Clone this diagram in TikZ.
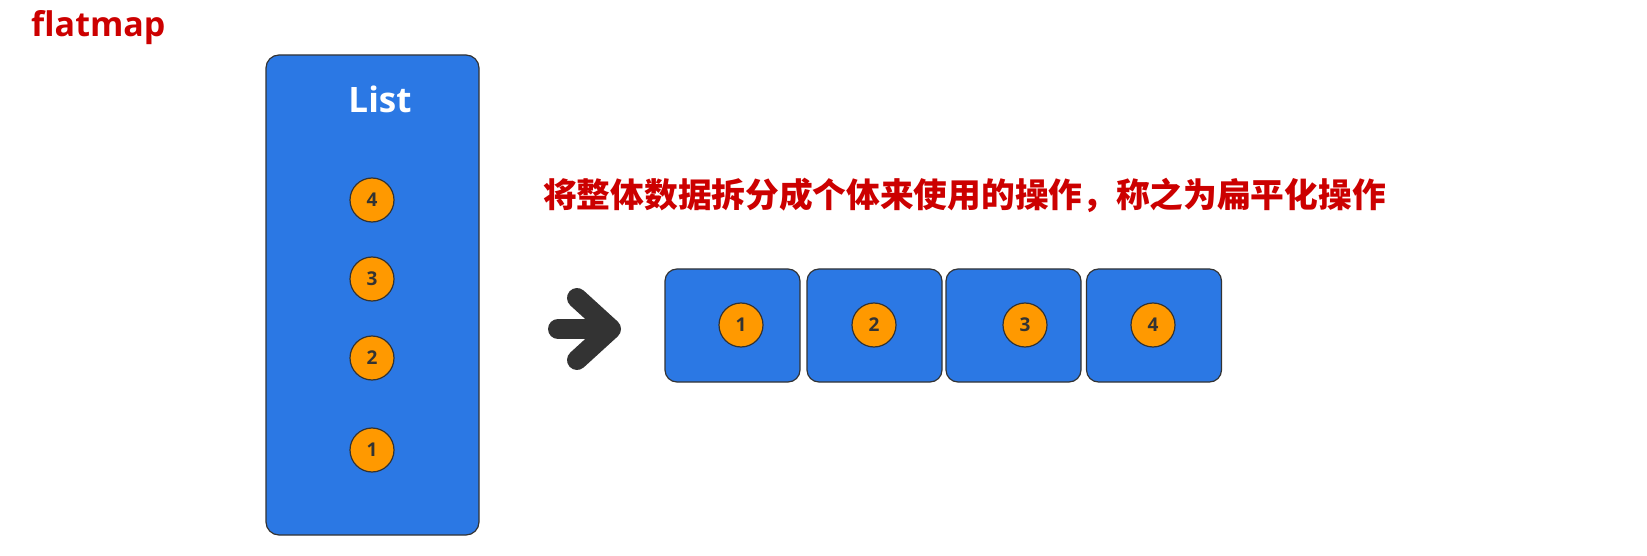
\documentclass[tikz,border=0pt]{standalone}
\usepackage{fontspec}
\setmainfont{Open Sans}
\newfontfamily\cjk{Noto Sans CJK SC}
\definecolor{boxblue}{HTML}{2B78E4}
\definecolor{dotorange}{HTML}{FF9900}
\definecolor{edgegray}{HTML}{333333}
\definecolor{titlered}{HTML}{CC0000}
\begin{document}
\begin{tikzpicture}[x=1pt,y=-1pt,
  cell/.style={draw=edgegray,line width=1.2pt,fill=boxblue,rounded corners=12pt,inner sep=0pt},
  item/.style={circle,draw=edgegray,line width=1.2pt,fill=dotorange,minimum size=44pt,inner sep=0pt,
    text=edgegray,font=\fontsize{19}{22}\selectfont\bfseries}]
\useasboundingbox (0,0) rectangle (1647,556);

\node[anchor=base west,inner sep=0pt,text=titlered,font=\fontsize{34}{40}\selectfont\bfseries] (title) at (31,37) {flatmap};

% the list
\node[cell,rounded corners=13pt,minimum width=213pt,minimum height=480pt] (list) at (372.5,295) {};
\node[anchor=base,inner sep=0pt,text=white,font=\fontsize{35}{40}\selectfont\bfseries] (listname) at (380,113) {List};
\foreach \i/\y in {4/200,3/279,2/358,1/450}{
	\node[item] (l\i) at (372,\y) {\i};}

\node[anchor=west,inner sep=0pt,text=titlered,font=\cjk\fontsize{33.7}{40}\selectfont\bfseries] (note) at (543,195) {将整体数据拆分成个体来使用的操作，称之为扁平化操作};

% arrow
\draw[edgegray,line width=20pt,line cap=round] (558,329) -- (604,329);
\draw[edgegray,line width=20pt,line cap=round,line join=round] (577,298) -- (611,329) -- (577,360);

% flattened items
\foreach \i/\bx/\cx in {1/732.5/741,2/874.5/874,3/1013.5/1025,4/1154/1153}{
	\node[cell,minimum width=135pt,minimum height=113pt] (c\i) at (\bx,325.5) {};
	\node[item] (n\i) at (\cx,325) {\i};}
\end{tikzpicture}
\end{document}
